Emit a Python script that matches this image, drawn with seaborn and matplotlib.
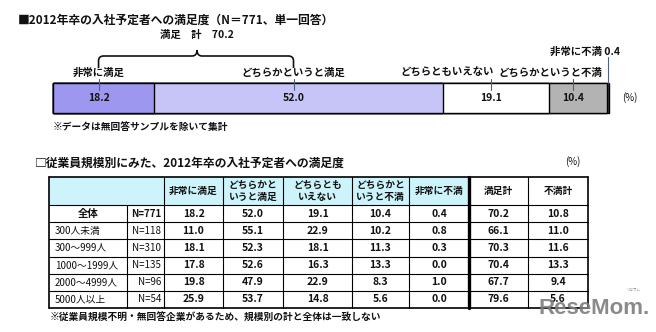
import numpy as np
import matplotlib
matplotlib.use("Agg")
import matplotlib.pyplot as plt
from matplotlib.path import Path
from matplotlib.patches import PathPatch, Rectangle
import seaborn as sns

# ---------------- data ----------------
segment_names = ["非常に満足", "どちらかというと満足", "どちらともいえない",
                 "どちらかというと不満", "非常に不満"]
row_labels = ["全体", "300人未満", "300～999人", "1000～1999人", "2000～4999人", "5000人以上"]
row_n = [771, 118, 310, 135, 96, 54]
very_sat = [18.2, 11.0, 18.1, 17.8, 19.8, 25.9]
some_sat = [52.0, 55.1, 52.3, 52.6, 47.9, 53.7]
neutral = [19.1, 22.9, 18.1, 16.3, 22.9, 14.8]
some_dis = [10.4, 10.2, 11.3, 13.3, 8.3, 5.6]
very_dis = [0.4, 0.8, 0.3, 0.0, 1.0, 0.0]
sat_total = [70.2, 66.1, 70.3, 70.4, 67.7, 79.6]
dis_total = [10.8, 11.0, 11.6, 13.3, 9.4, 5.6]
col_headers = ["非常に満足", "どちらかと\nいうと満足", "どちらとも\nいえない",
               "どちらかと\nいうと不満", "非常に不満", "満足計", "不満計"]

title_top = "■2012年卒の入社予定者への満足度（N＝771、単一回答）"
title_table = "□従業員規模別にみた、2012年卒の入社予定者への満足度"
note_top = "※データは無回答サンプルを除いて集計"
note_table = "※従業員規模不明・無回答企業があるため、規模別の計と全体は一致しない"

# ---------------- style ----------------
sns.set_theme(style="white")
plt.rcParams["font.family"] = ["Noto Sans CJK JP", "DejaVu Sans"]

W, H = 656, 332
fig = plt.figure(figsize=(W / 100, H / 100), dpi=100, facecolor="white")


def fig_rect(x0, y0, x1, y1):
    """pixel box (top-left origin) -> figure fraction rect"""
    return [x0 / W, 1 - y1 / H, (x1 - x0) / W, (y1 - y0) / H]


# ---------------- stacked bar (overall row) ----------------
BAR_L, BAR_R, BAR_T, BAR_B = 53, 609, 83, 113
axb = fig.add_axes(fig_rect(BAR_L, BAR_T, BAR_R, BAR_B))
bar_vals = np.array([very_sat[0], some_sat[0], neutral[0], some_dis[0], very_dis[0]])
ends = np.cumsum(bar_vals)
starts = ends - bar_vals
seg_colors = ["#9d97f0", "#c7c4f7", "#ffffff", "#b3b3b3", "#3c3c3c"]

# cumulative bars, longest first, so each segment shows its own span
for end, col in reversed(list(zip(ends, seg_colors))):
    sns.barplot(x=[end], y=[row_labels[0]], orient="h", color=col, saturation=1,
                width=1, edgecolor="black", linewidth=1.0, errorbar=None, ax=axb)
axb.set_xlim(0, ends[-1])
axb.set_ylim(0.5, -0.5)
axb.axis("off")
for p in axb.patches:
    p.set_clip_on(False)

# ---------------- overlay in pixel coordinates ----------------
ax = fig.add_axes([0, 0, 1, 1])
ax.set_xlim(0, W)
ax.set_ylim(H, 0)
ax.axis("off")


def xpix(v):
    return BAR_L + v / ends[-1] * (BAR_R - BAR_L)


DARK = "#111111"
LEADER = "#4f5f80"

ax.text(18, 20, title_top, fontsize=8.5, fontweight="bold", color=DARK, ha="left", va="center")

# leader x positions and value labels
mids = starts + bar_vals / 2
lead_x = [xpix(m - 0.9) for m in mids[:4]] + [xpix(mids[4])]
for i in range(4):
    ax.text(lead_x[i], 98, f"{bar_vals[i]:.1f}", fontsize=7.5, color=DARK,
            ha="center", va="center", fontweight="bold")
    ax.plot([lead_x[i], lead_x[i]], [79, 90], color=LEADER, lw=0.8)
ax.plot([lead_x[4], lead_x[4]], [57, BAR_T], color=LEADER, lw=0.8)

# category labels above the bar
label_pos = [(lead_x[0], 73, "center"), (lead_x[1], 73, "center"),
             (lead_x[2] + 3, 73, "right"), (lead_x[3] - 23, 73, "center")]
for (x, y, ha), name in zip(label_pos, segment_names[:4]):
    ax.text(x, y, name, fontsize=7.5, color=DARK, ha=ha, va="center", fontweight="bold")
ax.text(lead_x[4] + 12, 52, f"{segment_names[4]} {bar_vals[4]:.1f}", fontsize=7.5,
        color=DARK, ha="right", va="center", fontweight="bold")
ax.text(630, 98, "(%)", fontsize=7, color=DARK, ha="center", va="center")

# brace over the two "satisfied" segments
xa, xb = lead_x[0], lead_x[1]
xm = (xa + xb) / 2 + 1
verts = [(xa, 68), (xa, 61), (xa, 56), (xa + 5, 56), (xm - 5, 56), (xm, 56), (xm, 50),
         (xm, 56), (xm + 5, 56), (xb - 5, 56), (xb, 56), (xb, 61), (xb, 68)]
codes = [Path.MOVETO, Path.LINETO, Path.CURVE3, Path.CURVE3, Path.LINETO, Path.CURVE3,
         Path.CURVE3, Path.CURVE3, Path.CURVE3, Path.LINETO, Path.CURVE3, Path.CURVE3,
         Path.LINETO]
ax.add_patch(PathPatch(Path(verts, codes), fill=False, lw=1.2, color=DARK))
ax.text(xm, 35, f"満足　計　{sat_total[0]:.1f}", fontsize=7.5, color=DARK,
        ha="center", va="center", fontweight="bold")

ax.text(53, 127, note_top, fontsize=7, color=DARK, ha="left", va="center", fontweight="bold")

# ---------------- table ----------------
ax.text(35, 163, title_table, fontsize=8.5, fontweight="bold", color=DARK, ha="left", va="center")
ax.text(573, 162, "(%)", fontsize=7, color=DARK, ha="center", va="center")

col_x = [49, 127, 164, 223, 283, 352, 409, 469, 528, 588]
T_TOP, HDR_B, T_BOT = 177, 205, 308
row_y = np.linspace(HDR_B, T_BOT, len(row_labels) + 1)

ax.add_patch(Rectangle((col_x[0], T_TOP), col_x[7] - col_x[0], HDR_B - T_TOP,
                       facecolor="#cdf4fb", edgecolor="none", zorder=0))
# horizontal rules
for y in [T_TOP, HDR_B] + list(row_y[1:]):
    outer = y in (T_TOP, T_BOT)
    ax.plot([col_x[0], col_x[-1]], [y, y], color="black", lw=1.2 if outer else 0.8)
# vertical rules
for i, x in enumerate(col_x):
    y0 = HDR_B if i == 1 else T_TOP
    lw = 2.4 if i == 7 else (1.2 if i in (0, len(col_x) - 1) else 0.8)
    ax.plot([x, x], [y0, T_BOT], color="black", lw=lw)

# header cells
for j, hdr in enumerate(col_headers):
    cx = (col_x[j + 2] + col_x[j + 3]) / 2
    ax.text(cx, (T_TOP + HDR_B) / 2, hdr, fontsize=7, color=DARK, ha="center",
            va="center", linespacing=1.2, fontweight="bold")

# body
columns = [very_sat, some_sat, neutral, some_dis, very_dis, sat_total, dis_total]
for r, lab in enumerate(row_labels):
    cy = (row_y[r] + row_y[r + 1]) / 2
    if r == 0:
        ax.text((col_x[0] + col_x[1]) / 2, cy, lab, fontsize=7.5, color=DARK,
                ha="center", va="center", fontweight="bold")
    else:
        ax.text(col_x[0] + 6, cy, lab, fontsize=7, color=DARK, ha="left", va="center")
    ax.text(col_x[2] - 3, cy, f"N={row_n[r]}", fontsize=7, color=DARK, ha="right",
            va="center", fontweight="bold" if r == 0 else "normal")
    for j, col in enumerate(columns):
        cx = (col_x[j + 2] + col_x[j + 3]) / 2
        ax.text(cx, cy, f"{col[r]:.1f}", fontsize=7.5, color=DARK, ha="center",
                va="center", fontweight="bold")

ax.text(50, 318, note_table, fontsize=7, color=DARK, ha="left", va="center", fontweight="bold")

# site mark
ax.text(594, 309, "ReseMom.", fontsize=16, color="#7d7d7d", ha="center", va="center",
        fontweight="bold", family=["Liberation Sans", "DejaVu Sans"], alpha=0.9)
ax.text(633, 290, "リセマム", fontsize=2.5, color="#7d7d7d", ha="center", va="center")

fig.savefig("out.png", dpi=100, facecolor="white")
